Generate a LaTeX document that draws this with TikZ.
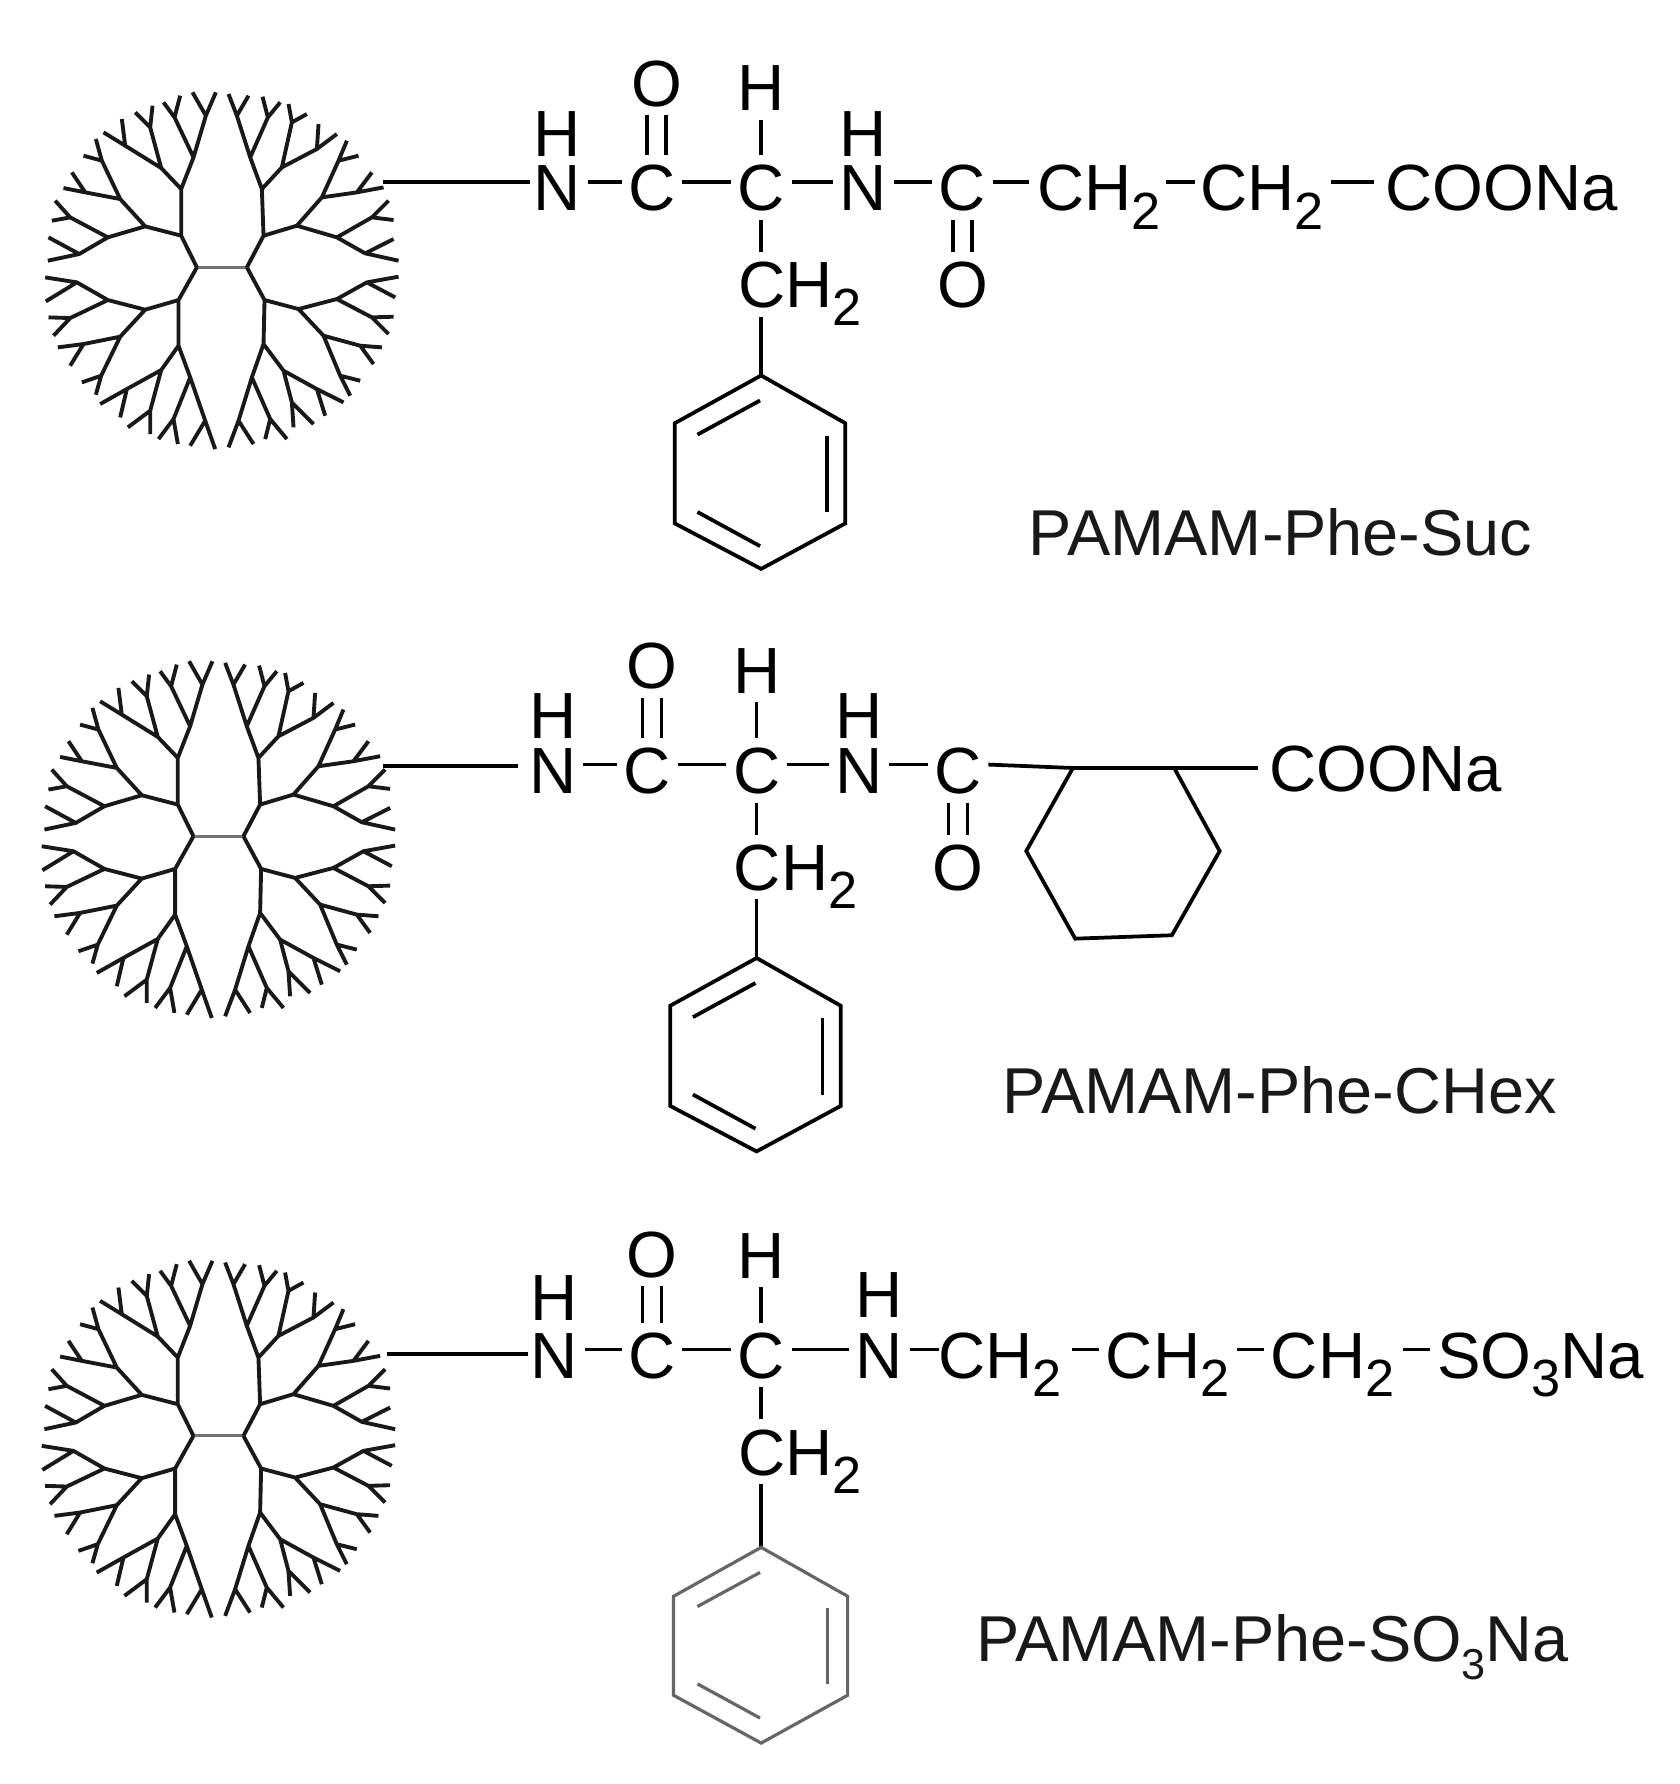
\documentclass[tikz,border=0pt]{standalone}
\usepackage{fontspec}
\setmainfont{Liberation Sans}
\usetikzlibrary{calc}
\newcommand\subn[1]{\raisebox{-0.28em}{\fontsize{23}{23}\selectfont #1}}
\newcommand\subc[1]{\raisebox{-0.28em}{\fontsize{19}{19}\selectfont #1}}
\newcommand\hb[2]{\draw[bond] ([yshift=2.5pt]#1.east) -- ([yshift=2.5pt]#2.west);}
\newcommand\dbl[2]{\draw[bond] ([xshift=-4.2pt]#1) -- ([xshift=-4.2pt]#2) ([xshift=4.2pt]#1) -- ([xshift=4.2pt]#2);}
\newcommand\ringat[7]{%
  \coordinate (r1) at #2; \coordinate (r2) at #3; \coordinate (r3) at #4;
  \coordinate (r4) at #5; \coordinate (r5) at #6; \coordinate (r6) at #7;
  \draw[#1] (r1) -- (r2) -- (r3) -- (r4) -- (r5) -- (r6) -- cycle;
  \draw[#1] ($(r1)+(-56,52)$) -- ($(r1)+(-1,22)$);
  \draw[#1] ($(r1)+(-56,120)$) -- ($(r1)+(-1,150)$);
  \draw[#1] ($(r1)+(58,53)$) -- ($(r1)+(58,120)$);
}
\tikzset{
  bond/.style={line width=1.65pt,black,line join=miter},
  atom/.style={font=\fontsize{28.7}{30}\selectfont,text=black,inner sep=0pt,outer xsep=3pt,outer ysep=4pt,text height=20.4pt,text depth=0pt,anchor=center},
  caption/.style={font=\fontsize{28.5}{30}\selectfont,text=black!90,inner sep=0pt,text height=20.4pt,text depth=0pt,anchor=west},
  dendrimer/.pic={
    \draw[line width=1.25pt,black!55] (-22,0) -- (22,0);
    \begin{scope}[scale=.293,shift={(-600,-620)}]
    \draw[line width=1.7pt,black!90,line join=round]
    % upper right
    (675,620)--(725,525)--(720,385)--(685,290)--(645,165)--(620,100) (645,165)--(680,105)
    (685,290)--(738,170)--(722,108) (738,170)--(775,125)
    (720,385)--(780,320)--(810,185)--(800,130) (810,185)--(855,160)
    (780,320)--(885,265)--(890,190) (885,265)--(945,220)
    (725,525)--(825,495)--(900,410)--(950,300)--(975,240) (950,300)--(1010,285)
    (900,410)--(1005,395)--(1050,335) (1005,395)--(1085,380)
    (825,495)--(945,530)--(1050,470)--(1100,420) (1050,470)--(1115,478)
    (945,530)--(1030,578)--(1115,535) (1030,578)--(1130,600)
    % lower right
    (675,620)--(728,718)--(725,850)--(690,950)--(650,1080)--(620,1160) (650,1080)--(695,1150)
    (690,950)--(745,1075)--(730,1135) (745,1075)--(795,1135)
    (725,850)--(785,930)--(810,1025)--(815,1100) (810,1025)--(875,1090)
    (785,930)--(885,985)--(910,1065) (885,985)--(965,1025)
    (728,718)--(830,745)--(905,825)--(955,945)--(985,1005) (955,945)--(1015,960)
    (905,825)--(1015,855)--(1055,910) (1015,855)--(1080,860)
    (830,745)--(945,715)--(1050,770)--(1100,820) (1050,770)--(1115,768)
    (945,715)--(1035,665)--(1120,710) (1035,665)--(1130,648)
    % upper left
    (525,620)--(478,525)--(478,385)--(515,290)--(552,165)--(512,95) (552,165)--(582,95)
    (515,290)--(458,170)--(425,125) (458,170)--(475,105)
    (478,385)--(418,322)--(385,200)--(340,155) (385,200)--(392,135)
    (418,322)--(310,255)--(245,215) (310,255)--(300,175)
    (478,525)--(370,497)--(295,415)--(240,300)--(185,285) (240,300)--(222,235)
    (295,415)--(190,395)--(125,382) (190,395)--(150,335)
    (370,497)--(258,530)--(145,470)--(90,480) (145,470)--(100,420)
    (258,530)--(172,580)--(78,600) (172,580)--(80,530)
    % lower left
    (525,620)--(470,718)--(470,855)--(505,950)--(550,1080)--(505,1155) (550,1080)--(580,1165)
    (505,950)--(455,1075)--(410,1135) (455,1075)--(468,1150)
    (470,855)--(418,928)--(385,1050)--(318,1100) (385,1050)--(385,1120)
    (418,928)--(315,985)--(235,1030) (315,985)--(295,1070)
    (470,718)--(370,747)--(295,828)--(238,945)--(180,965) (238,945)--(222,1002)
    (295,828)--(185,850)--(108,860) (185,850)--(145,915)
    (370,747)--(258,718)--(145,772)--(80,770) (145,772)--(95,825)
    (258,718)--(165,665)--(70,650) (165,665)--(72,722);
    \end{scope}
  }
}
\newcommand\peptide{%
  \node[atom] (h1) at (490,117) {H};
  \node[atom] (n1) at (490,165) {N};
  \node[atom] (c1) at (573,165) {C};
  \node[atom] (o1) at (577,73) {O};
  \node[atom] (h2) at (669,77) {H};
  \node[atom] (c2) at (669,165) {C};
  \node[atom] (h3) at (759,117) {H};
  \node[atom] (n2) at (759,165) {N};
  \node[atom] (c3) at (846,165) {C};
  \node[atom] (o2) at (846,250) {O};
  \node[atom,anchor=west,outer xsep=0pt] (ch) at (649,250) {CH\subn{2}};
  \hb{n1}{c1} \hb{c1}{c2} \hb{c2}{n2} \hb{n2}{c3}
  \dbl{o1.south}{o1.south |- c1.north}
  \draw[bond] (c2.north) -- (h2.south);
  \draw[bond] (c2.south) -- (c2.south |- ch.north);
  \dbl{c3.south}{o2.north}
  \coordinate (rt) at (669,330);
  \draw[bond] (c2.south |- ch.south) -- (rt);
  \ringat{bond}{(669,330)}{(593,372)}{(593,460)}{(669,500)}{(743,460)}{(743,372)}
}
\begin{document}
\begin{tikzpicture}[x=0.5pt,y=-0.5pt]
\useasboundingbox (0,0) rectangle (1476,1568);
\fill[white] (0,0) rectangle (1476,1568);
% --- PAMAM-Phe-Suc
\pic at (195,235) {dendrimer};
\begin{scope}[name prefix=a-]
\peptide
\coordinate (st) at (337,160);
\coordinate (se) at (466,160);
\node[atom,anchor=west,outer xsep=0pt] (cha) at (912,165) {CH\subn{2}};
\node[atom,anchor=west,outer xsep=0pt] (chb) at (1055,165) {CH\subn{2}};
\node[atom,anchor=west,outer xsep=0pt] (coo) at (1218,165) {COONa};
\draw[bond] (st) -- (se);
\draw[bond] ([yshift=2.5pt]c3.east) -- ([xshift=-4pt,yshift=2.5pt]cha.west);
\draw[bond] ([xshift=-15pt,yshift=2.5pt]chb.west) -- ([xshift=-2.5pt,yshift=2.5pt]chb.west);
\draw[bond] ([xshift=-24pt,yshift=2.5pt]coo.west) -- ([xshift=-5pt,yshift=2.5pt]coo.west);
\node[caption] (t1) at (904,468) {PAMAM-Phe-Suc};
\end{scope}
% --- PAMAM-Phe-CHex
\pic at (192,735) {dendrimer};
\begin{scope}[name prefix=b-,shift={(-4,512)}]
\peptide
\coordinate (st) at (341,161);
\coordinate (se) at (459,161);
\draw[bond] (st) -- (se);
\node[atom,anchor=west,outer xsep=0pt] (coo) at (1120,163) {COONa};
\coordinate (x1) at (947,163); \coordinate (x2) at (1036,163); \coordinate (x3) at (1076,236);
\coordinate (x4) at (1034,310); \coordinate (x5) at (949,313); \coordinate (x6) at (906,236);
\draw[bond] (x1) -- (x2) -- (x3) -- (x4) -- (x5) -- (x6) -- cycle;
\draw[bond] ([yshift=2.5pt]c3.east) -- (x1);
\draw[bond] (x2) -- ([xshift=-5pt]coo.west |- x2);
\node[caption] (t2) at (885,446) {PAMAM-Phe-CHex};
\end{scope}
% --- PAMAM-Phe-SO3Na
\pic at (192,1262) {dendrimer};
\begin{scope}[name prefix=c-]
\node[atom] (h1) at (487,1140) {H};
\node[atom] (n1) at (487,1191) {N};
\node[atom] (c1) at (573,1191) {C};
\node[atom] (o1) at (573,1102) {O};
\node[atom] (h2) at (669,1103) {H};
\node[atom] (c2) at (669,1191) {C};
\node[atom] (h3) at (773,1138) {H};
\node[atom] (n2) at (773,1191) {N};
\node[atom,anchor=west,outer xsep=0pt] (ch) at (649,1276) {CH\subn{2}};
\node[atom,anchor=west,outer xsep=0pt] (cha) at (825,1191) {CH\subn{2}};
\node[atom,anchor=west,outer xsep=0pt] (chb) at (972,1191) {CH\subn{2}};
\node[atom,anchor=west,outer xsep=0pt] (chc) at (1117,1191) {CH\subn{2}};
\node[atom,anchor=west,outer xsep=0pt] (so) at (1263,1191) {SO\subn{3}Na};
\coordinate (st) at (340,1190);
\coordinate (se) at (464,1190);
\draw[bond] (st) -- (se);
\hb{n1}{c1} \hb{c1}{c2} \hb{c2}{n2}
\draw[bond] ([yshift=2.5pt]n2.east) -- ([yshift=2.5pt]cha.west);
\draw[bond] ([xshift=-15pt,yshift=2.5pt]chb.west) -- ([xshift=-3pt,yshift=2.5pt]chb.west);
\draw[bond] ([xshift=-15pt,yshift=2.5pt]chc.west) -- ([xshift=-3pt,yshift=2.5pt]chc.west);
\draw[bond] ([xshift=-15pt,yshift=2.5pt]so.west) -- ([xshift=-3pt,yshift=2.5pt]so.west);
\dbl{o1.south}{c1.north}
\draw[bond] (c2.north) -- (h2.south);
\draw[bond] (c2.south) -- (c2.south |- ch.north);
\coordinate (rt) at (669,1360);
\draw[bond] (c2.south |- ch.south) -- (rt);
\tikzset{bond/.append style={black!60,line width=1.4pt}}
\ringat{bond}{(669,1360)}{(592,1403)}{(592,1490)}{(669,1532)}{(745,1490)}{(745,1403)}
\node[caption] (t3) at (858,1440) {PAMAM-Phe-SO\subc{3}Na};
\end{scope}
\end{tikzpicture}
\end{document}
